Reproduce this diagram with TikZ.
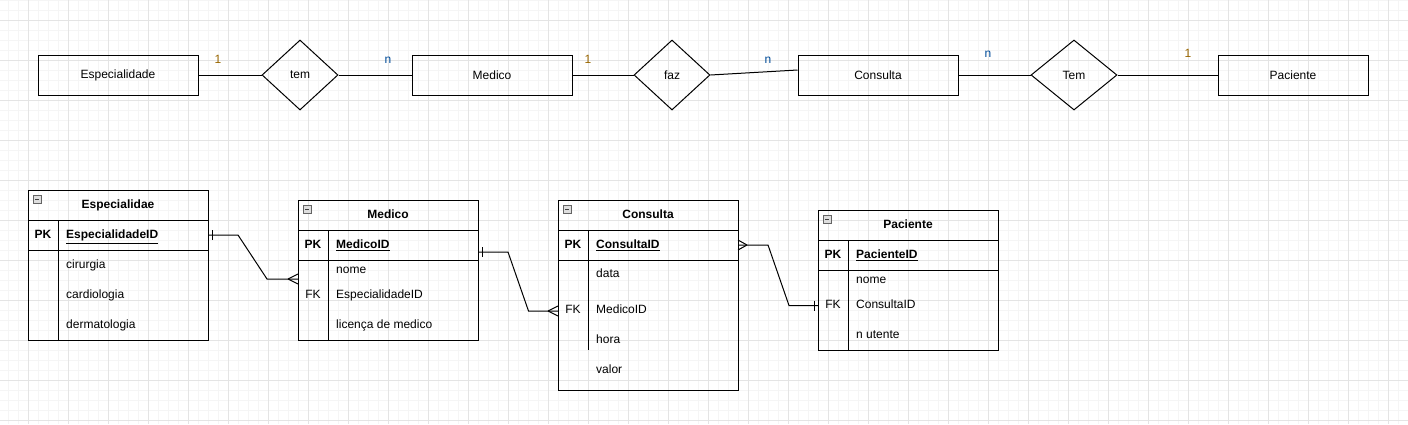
\documentclass[tikz,border=0pt]{standalone}
\usepackage{fontspec}
\setmainfont{Liberation Sans}
\usetikzlibrary{shapes.geometric}
\definecolor{gridminor}{RGB}{245,245,245}
\definecolor{gridmajor}{RGB}{228,228,228}
\definecolor{labone}{RGB}{153,102,0}
\definecolor{labn}{RGB}{0,76,153}
\definecolor{iconfill}{RGB}{222,222,222}
\definecolor{iconline}{RGB}{100,100,100}
\begin{document}
\begin{tikzpicture}[x=1pt,y=-1pt,
  font=\fontsize{12}{14}\selectfont,
  entity/.style={draw, line width=1pt, minimum width=160pt, minimum height=40pt, inner sep=0pt},
  rel/.style={draw, diamond, line width=1pt, inner sep=0pt, minimum width=76pt, minimum height=70pt},
  link/.style={line width=1pt},
  txt/.style={inner sep=0pt, yshift=-1.2pt},
  cardone/.style={txt, text=labone, anchor=mid},
  cardn/.style={txt, text=labn, anchor=mid},
  tbl/.style={draw, line width=1pt, inner sep=0pt, anchor=north west},
  ttl/.style={txt, font=\fontsize{12}{14}\selectfont\bfseries, anchor=mid},
  keylab/.style={txt, font=\fontsize{12}{14}\selectfont\bfseries, anchor=mid},
  fklab/.style={txt, anchor=mid},
  attr/.style={txt, anchor=mid west},
  pkattr/.style={txt, font=\fontsize{12}{14}\selectfont\bfseries, anchor=mid west},
  icon/.style={draw=iconline, fill=iconfill, line width=0.6pt, minimum size=8pt, inner sep=0pt,
    path picture={\draw[line width=0.9pt, black!75] ([xshift=2pt]path picture bounding box.west) -- ([xshift=-2pt]path picture bounding box.east);}},
  rowline/.style={line width=1pt}
]
\useasboundingbox (0,0) rectangle (1408,424);
\fill[white] (0,0) rectangle (1408,424);
% grid
\foreach \gx in {8,18,...,1408} \draw[gridminor, line width=0.6pt] (\gx,0) -- (\gx,424);
\foreach \gy in {0,10,...,420} \draw[gridminor, line width=0.6pt] (0,\gy) -- (1408,\gy);
\foreach \gx in {28,68,...,1408} \draw[gridmajor, line width=0.7pt] (\gx,0) -- (\gx,424);
\foreach \gy in {20,60,...,420} \draw[gridmajor, line width=0.7pt] (0,\gy) -- (1408,\gy);

% ===== top ER diagram =====
\node[entity] (eEsp) at (118,75) {Especialidade};
\node[rel] (rTem) at (300,75) {tem};
\node[entity] (eMed) at (492,75) {Medico};
\node[rel] (rFaz) at (672,75) {faz};
\node[entity] (eCon) at (878,75) {Consulta};
\node[rel, minimum width=86pt] (rTem2) at (1074,75) {Tem};
\node[entity, minimum width=150pt] (ePac) at (1293,75) {Paciente};

\draw[link] (eEsp.east) -- (rTem.west);
\draw[link] (rTem.east) -- (eMed.west);
\draw[link] (eMed.east) -- (rFaz.west);
\draw[link] (rFaz.east) -- ([yshift=5pt]eCon.west);
\draw[link] (eCon.east) -- (rTem2.west);
\draw[link] (rTem2.east) -- (ePac.west);

\node[cardone] (c1) at (218,60) {1};
\node[cardn] (c2) at (388,60) {n};
\node[cardone] (c3) at (588,60) {1};
\node[cardn] (c4) at (768,60) {n};
\node[cardn] (c5) at (988,54) {n};
\node[cardone] (c6) at (1188,54) {1};

% ===== tables =====
% Especialidae
\node[tbl, minimum width=180pt, minimum height=150pt] (tEsp) at (28,190) {};
\draw[rowline] (28,220) -- (208,220);
\draw[rowline] (28,250) -- (208,250);
\draw[rowline] (58,220) -- (58,340);
\node[icon] (iEsp) at (37,199) {};
\node[ttl] (hEsp) at (118,205) {Especialidae};
\node[keylab] (kEsp) at (43,235) {PK};
\node[pkattr] (pEsp) at (66,235) {\underline{EspecialidadeID}};
\node[attr] (aEsp1) at (66,265) {cirurgia};
\node[attr] (aEsp2) at (66,295) {cardiologia};
\node[attr] (aEsp3) at (66,325) {dermatologia};

% Medico
\node[tbl, minimum width=180pt, minimum height=140pt] (tMed) at (298,200) {};
\draw[rowline] (298,230) -- (478,230);
\draw[rowline] (298,260) -- (478,260);
\draw[rowline] (328,230) -- (328,340);
\node[icon] (iMed) at (307,209) {};
\node[ttl] (hMed) at (388,215) {Medico};
\node[keylab] (kMed) at (313,245) {PK};
\node[pkattr] (pMed) at (336,245) {\underline{MedicoID}};
\node[attr] (aMed1) at (336,270) {nome};
\node[fklab] (fMed) at (313,295) {FK};
\node[attr] (aMed2) at (336,295) {EspecialidadeID};
\node[attr] (aMed3) at (336,325) {licença de medico};

% Consulta
\node[tbl, minimum width=180pt, minimum height=190pt] (tCon) at (558,200) {};
\draw[rowline] (558,230) -- (738,230);
\draw[rowline] (558,260) -- (738,260);
\draw[rowline] (588,230) -- (588,350);
\node[icon] (iCon) at (567,209) {};
\node[ttl] (hCon) at (648,215) {Consulta};
\node[keylab] (kCon) at (573,245) {PK};
\node[pkattr] (pCon) at (596,245) {\underline{ConsultaID}};
\node[attr] (aCon1) at (596,274) {data};
\node[fklab] (fCon) at (573,310) {FK};
\node[attr] (aCon2) at (596,310) {MedicoID};
\node[attr] (aCon3) at (596,340) {hora};
\node[attr] (aCon4) at (596,370) {valor};

% Paciente
\node[tbl, minimum width=180pt, minimum height=140pt] (tPac) at (818,210) {};
\draw[rowline] (818,240) -- (998,240);
\draw[rowline] (818,270) -- (998,270);
\draw[rowline] (848,240) -- (848,350);
\node[icon] (iPac) at (827,219) {};
\node[ttl] (hPac) at (908,225) {Paciente};
\node[keylab] (kPac) at (833,255) {PK};
\node[pkattr] (pPac) at (856,255) {\underline{PacienteID}};
\node[attr] (aPac1) at (856,280) {nome};
\node[fklab] (fPac) at (833,305) {FK};
\node[attr] (aPac2) at (856,305) {ConsultaID};
\node[attr] (aPac3) at (856,335) {n utente};

% ===== relationship connectors =====
\coordinate (espOut) at (208,235);
\coordinate (medIn) at (298,279);
\coordinate (medOut) at (478,252);
\coordinate (conIn) at (558,311);
\coordinate (conOut) at (738,245);
\coordinate (pacIn) at (818,305.5);

\draw[link] (espOut) -- (238,235) -- (267,279) -- (medIn);
\draw[link] (212.5,230) -- (212.5,240);
\draw[link] (288,279) -- (298,274) (288,279) -- (298,284);

\draw[link] (medOut) -- (508,252) -- (528.5,311) -- (conIn);
\draw[link] (482.5,247) -- (482.5,257);
\draw[link] (548,311) -- (558,306) (548,311) -- (558,316);

\draw[link] (conOut) -- (768,245) -- (789,305.5) -- (pacIn);
\draw[link] (747,245) -- (738,240) (747,245) -- (738,250);
\draw[link] (814,300.5) -- (814,310.5);
\end{tikzpicture}
\end{document}
